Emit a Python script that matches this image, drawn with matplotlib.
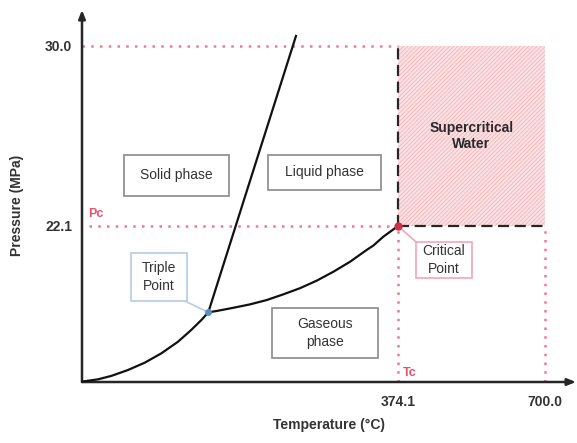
import numpy as np
import matplotlib
matplotlib.use("Agg")
import matplotlib.pyplot as plt
from matplotlib.patches import Rectangle

plt.rcParams['font.family'] = ['Liberation Sans', 'DejaVu Sans']
plt.rcParams['hatch.linewidth'] = 0.6

# --- Data (schematic phase diagram of water) ---
T_c = 374.1      # critical temperature (degC)
P_c = 22.1       # critical pressure (MPa)
T_max = 700.0
P_max = 30.0

x_ticks = [T_c, T_max]
x_tick_labels = ["374.1", "700.0"]
y_ticks = [P_c, P_max]
y_tick_labels = ["22.1", "30.0"]

# sublimation curve (origin -> triple point)
subl_T = [-326.5, -291.0, -261.5, -224.5, -187.5, -150.7, -113.7, -84.2, -62.0, -46.5]
subl_P = [15.27, 15.37, 15.52, 15.78, 16.10, 16.51, 17.02, 17.54, 17.97, 18.31]

# melting line (triple point -> top)
melt_T = [-46.5, 147.9]
melt_P = [18.31, 30.44]

# vaporization curve (triple point -> critical point)
vap_T = [-46.5, -27.9, 8.9, 46.0, 83.0, 119.8, 156.8, 193.8, 230.6, 267.7,
         304.7, 319.3, 341.5, 374.1]
vap_P = [18.31, 18.37, 18.51, 18.66, 18.85, 19.10, 19.37, 19.70, 20.09, 20.53,
         21.05, 21.24, 21.63, 22.1]

triple_T, triple_P = -46.5, 18.31

# schematic axis limits
x_min, x_max = -326.5, 768.7
y_min, y_max = 15.253, 31.58

red = '#E8506E'
red_dot = '#F07890'
dark = '#262626'
txt = '#333333'

fig = plt.figure(figsize=(5.77, 4.43), dpi=100)
ax = fig.add_axes([82 / 577, 61 / 443, 494 / 577, 372 / 443])
ax.set_xlim(x_min, x_max)
ax.set_ylim(y_min, y_max)
for s in ax.spines.values():
    s.set_visible(False)

# axes with arrows
ax.annotate('', xy=(1, 0), xytext=(0, 0), xycoords='axes fraction',
            arrowprops=dict(arrowstyle='-|>,head_length=0.5,head_width=0.2',
                            lw=1.8, color=dark, shrinkA=0, shrinkB=0))
ax.annotate('', xy=(0, 1), xytext=(0, 0), xycoords='axes fraction',
            arrowprops=dict(arrowstyle='-|>,head_length=0.5,head_width=0.2',
                            lw=1.8, color=dark, shrinkA=0, shrinkB=0))

ax.set_xticks(x_ticks)
ax.set_xticklabels(x_tick_labels)
ax.set_yticks(y_ticks)
ax.set_yticklabels(y_tick_labels)
ax.tick_params(length=0, labelsize=10, labelcolor=txt)
ax.tick_params(axis='x', pad=9)
ax.tick_params(axis='y', pad=7)
for lab in ax.get_xticklabels() + ax.get_yticklabels():
    lab.set_fontweight('bold')

ax.set_xlabel('Temperature (°C)', fontsize=10, fontweight='bold', color=txt)
ax.set_ylabel('Pressure (MPa)', fontsize=10, fontweight='bold', color=txt)
ax.xaxis.set_label_coords(0.501, -0.097)
ax.yaxis.set_label_coords(-0.118, 0.476)

# supercritical region
ax.fill_between([T_c, T_max], P_c, P_max, facecolor='#FBE2E4',
                edgecolor='#F4B4BB', hatch='////////', lw=0, zorder=1)

# red dotted guides
dot = (0, (1, 2.5))
ax.hlines(P_max, x_min, T_c, colors=red_dot, lw=1.8, linestyles=dot, zorder=2)
ax.hlines(P_c, x_min + 15, T_c, colors=red_dot, lw=1.8, linestyles=dot, zorder=2)
ax.vlines(T_c, y_min, P_c, colors=red_dot, lw=1.8, linestyles=dot, zorder=2)
ax.vlines(T_max, y_min, P_c - 0.1, colors=red_dot, lw=1.8, linestyles=dot, zorder=2)

# black dashed boundary
ax.vlines(T_c, P_c, P_max, colors=dark, lw=1.6, linestyles=(0, (5, 2.5)), zorder=3)
ax.hlines(P_c, T_c, T_max, colors=dark, lw=1.6, linestyles=(0, (5, 2.5)), zorder=3)

# phase boundaries
ax.plot(subl_T, subl_P, color='#111111', lw=1.6, zorder=4)
ax.plot(melt_T, melt_P, color='#111111', lw=1.6, zorder=4)
ax.plot(vap_T, vap_P, color='#111111', lw=1.6, zorder=4)

# boxes
def box(x0, x1, y0, y1, label, ec, weight='normal'):
    ax.add_patch(Rectangle((x0, y0), x1 - x0, y1 - y0, facecolor='white',
                           edgecolor=ec, lw=1.2, zorder=5))
    ax.text((x0 + x1) / 2, (y0 + y1) / 2, label, ha='center', va='center',
            fontsize=10, color=txt, fontweight=weight, zorder=6,
            linespacing=1.3)

box(-233.4, -0.6, 23.42, 25.22, 'Solid phase', '#8A8A8A')
box(85.9, 336.4, 23.68, 25.22, 'Liquid phase', '#8A8A8A')
box(94.7, 329.7, 16.31, 18.50, 'Gaseous\nphase', '#8A8A8A')

# triple point label
ax.plot([-102.6, triple_T], [18.85, triple_P], color='#B4CCE4', lw=1.2, zorder=4)
box(-217.9, -93.7, 18.81, 20.92, 'Triple\nPoint', '#B4CCE4')
ax.plot(triple_T, triple_P, 'o', ms=4, color='#5B8FC7', zorder=7)

# critical point label
ax.plot([T_c, 414.0], [P_c, 21.40], color='#F4A6B4', lw=1.2, zorder=4)
box(414.0, 538.1, 19.82, 21.40, 'Critical\nPoint', '#F4A6B4')
ax.plot(T_c, P_c, 'o', ms=5, color='#D0304A', zorder=7)

ax.text(537.0, 26.05, 'Supercritical\nWater', ha='center', va='center',
        fontsize=10, fontweight='bold', color='#2a2a2a', zorder=6,
        linespacing=1.2)

ax.text(-313.0, 22.5, 'Pc', color=red, fontsize=9, fontweight='bold')
ax.text(385.0, 15.5, 'Tc', color=red, fontsize=9, fontweight='bold')

fig.savefig('out.png', dpi=100)
